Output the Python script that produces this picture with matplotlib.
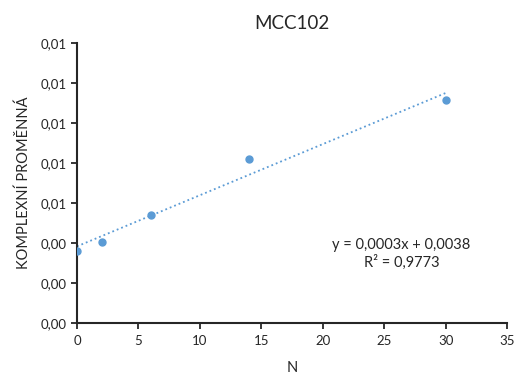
import numpy as np
import matplotlib
matplotlib.use('Agg')
import matplotlib.pyplot as plt
from matplotlib.ticker import FuncFormatter

plt.rcParams['font.family'] = ['Lato', 'DejaVu Sans']

# data
n_vals = [0, 2, 6, 14, 30]
kp_vals = [0.00362, 0.00405, 0.00542, 0.00822, 0.01112]
x_ticks = [0, 5, 10, 15, 20, 25, 30, 35]
y_ticks = [0, 0.002, 0.004, 0.006, 0.008, 0.010, 0.012, 0.014]
title = 'MCC102'
eq_text = 'y = 0,0003x + 0,0038\nR² = 0,9773'

blue = '#5B9BD5'
txt = '#262626'

fig = plt.figure(figsize=(5.15, 3.76), dpi=100)
ax = fig.add_axes([0.1495, 0.141, 0.835, 0.745])

ax.plot(n_vals, kp_vals, 'o', color=blue, markersize=5, zorder=3)

# linear trendline
k, q = np.polyfit(n_vals, kp_vals, 1)
xs = np.array([min(n_vals), max(n_vals)])
ax.plot(xs, k * xs + q, ':', color=blue, linewidth=1.3)

ax.set_xlim(0, 35)
ax.set_ylim(0, 0.014)
ax.set_xticks(x_ticks)
ax.set_yticks(y_ticks)
ax.yaxis.set_major_formatter(FuncFormatter(lambda v, p: '{:.2f}'.format(v).replace('.', ',')))

for s in ['top', 'right']:
    ax.spines[s].set_visible(False)
for s in ['left', 'bottom']:
    ax.spines[s].set_linewidth(1.5)
    ax.spines[s].set_color('#262626')
ax.tick_params(width=1.3, length=4, colors='#262626', labelsize=9.5, labelcolor=txt)
ax.tick_params(axis='x', pad=5)

ax.set_title(title, fontsize=13.5, color=txt, pad=10)
ax.set_xlabel('N', fontsize=10.5, color=txt, labelpad=10)
ax.set_ylabel('KOMPLEXNÍ PROMĚNNÁ', fontsize=10.5, color=txt, labelpad=7)

ax.text(26.4, 0.00345, eq_text, ha='center', va='center', fontsize=10.5,
        color=txt, linespacing=1.15)

fig.savefig('out.png', dpi=100)
